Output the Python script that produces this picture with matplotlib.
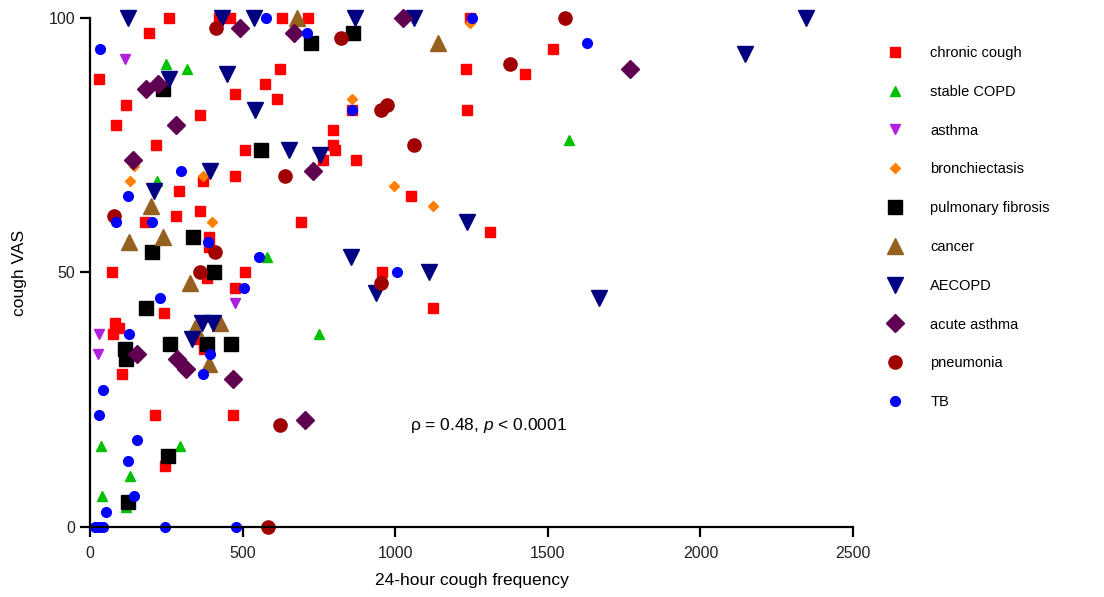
import matplotlib
matplotlib.use("Agg")
import matplotlib.pyplot as plt

plt.rcParams['font.family'] = ['Liberation Sans', 'DejaVu Sans']
plt.rcParams['mathtext.fontset'] = 'custom'
plt.rcParams['mathtext.rm'] = 'Liberation Sans'
plt.rcParams['mathtext.it'] = 'Liberation Sans:italic'

# data (x = 24-hour cough frequency, y = cough VAS)
chronic_x = [259, 194, 31, 119, 86, 359, 217, 476, 574, 614, 622, 507, 424, 459, 476, 630,
             714, 1232, 1234, 859, 796, 796, 804, 764, 872, 1053, 691, 957, 1125, 1245, 1517,
             1426, 1310, 370, 293, 181, 281, 359, 391, 389, 71, 383, 508, 476, 241, 82, 96,
             76, 352, 374, 105, 214, 467, 247]
chronic_y = [100, 97, 88, 83, 79, 81, 75, 85, 87, 84, 90, 74, 100, 100, 69, 100,
             100, 90, 82, 82, 78, 75, 74, 72, 72, 65, 60, 50, 43, 100, 94,
             89, 58, 68, 66, 60, 61, 62, 57, 55, 50, 49, 50, 47, 42, 40, 39,
             38, 37, 35, 30, 22, 22, 12]

copd_x = [250, 319, 220, 580, 35, 131, 39, 118, 296, 749, 1569]
copd_y = [91, 90, 68, 53, 16, 10, 6, 4, 16, 38, 76]

asthma_x = [115, 476, 31, 27]
asthma_y = [92, 44, 38, 34]

bronch_x = [145, 131, 400, 369, 859, 997, 1124, 1245]
bronch_y = [71, 68, 60, 69, 84, 67, 63, 99]

fibrosis_x = [238, 560, 339, 203, 407, 184, 115, 118, 261, 382, 461, 257, 124, 724, 861]
fibrosis_y = [86, 74, 57, 54, 50, 43, 35, 33, 36, 36, 36, 14, 5, 95, 97]

cancer_x = [199, 128, 239, 329, 344, 427, 391, 678, 1141]
cancer_y = [63, 56, 57, 48, 39, 40, 32, 100, 95]

aecopd_x = [126, 260, 449, 431, 536, 540, 394, 210, 367, 404, 334, 869, 1060, 652, 754,
            855, 937, 1112, 1234, 1669, 2345, 2145]
aecopd_y = [100, 88, 89, 100, 100, 82, 70, 66, 40, 40, 37, 100, 100, 74, 73,
            53, 46, 50, 60, 45, 100, 93]

acute_x = [491, 184, 223, 283, 141, 155, 284, 316, 470, 669, 1027, 731, 704, 1768]
acute_y = [98, 86, 87, 79, 72, 34, 33, 31, 29, 97, 100, 70, 21, 90]

pneu_x = [414, 78, 411, 359, 623, 582, 824, 972, 953, 639, 1062, 953, 1555, 1377]
pneu_y = [98, 61, 54, 50, 20, 0, 96, 83, 82, 69, 75, 48, 100, 91]

tb_x = [32, 577, 297, 125, 84, 203, 386, 555, 504, 230, 129, 393, 369, 42, 28, 155, 123,
        143, 52, 16, 30, 44, 246, 480, 710, 859, 1007, 1251, 1627]
tb_y = [94, 100, 70, 65, 60, 60, 56, 53, 47, 45, 38, 34, 30, 27, 22, 17, 13,
        6, 3, 0, 0, 0, 0, 0, 97, 82, 50, 100, 95]

labels = ['chronic cough', 'stable COPD', 'asthma', 'bronchiectasis', 'pulmonary fibrosis',
          'cancer', 'AECOPD', 'acute asthma', 'pneumonia', 'TB']
xs = [chronic_x, copd_x, asthma_x, bronch_x, fibrosis_x, cancer_x, aecopd_x, acute_x, pneu_x, tb_x]
ys = [chronic_y, copd_y, asthma_y, bronch_y, fibrosis_y, cancer_y, aecopd_y, acute_y, pneu_y, tb_y]

# styles
colors = ['#ff0000', '#00c000', '#b020e0', '#ff8000', '#000000', '#956020', '#000080',
          '#600050', '#a00000', '#0000ff']
markers = ['s', '^', 'v', 'D', 's', '^', 'v', 'D', 'o', 'o']
sizes = [6.5, 7, 7, 5, 10, 12, 12, 9, 9.5, 7]

fig = plt.figure(figsize=(11.04, 5.97), dpi=100)
ax = fig.add_axes([0.0815, 0.1173, 0.6912, 0.8526])

for x, y, lab, c, m, s in zip(xs, ys, labels, colors, markers, sizes):
    ax.plot(x, y, linestyle='none', marker=m, ms=s, color=c, mec=c, label=lab, clip_on=False)

ax.set_xlim(0, 2500)
ax.set_ylim(0, 100)
ax.set_xticks([0, 500, 1000, 1500, 2000, 2500])
ax.set_yticks([0, 50, 100])
for sp in ['top', 'right']:
    ax.spines[sp].set_visible(False)
for sp in ['left', 'bottom']:
    ax.spines[sp].set_linewidth(1.6)
ax.tick_params(width=1.6, length=7, labelsize=11.5, colors='#000000')
ax.tick_params(axis='x', pad=7)
ax.tick_params(labelcolor='#222222')
ax.set_xlabel('24-hour cough frequency', fontsize=12.5, labelpad=8)
ax.set_ylabel('cough VAS', fontsize=12.5, labelpad=16)

ax.text(1048, 20, r'ρ = 0.48, $\mathit{p}$ < 0.0001', fontsize=12.5, va='center', ha='left')

ax.legend(loc='upper left', bbox_to_anchor=(888 / 1104, 1 - 46 / 597), bbox_transform=fig.transFigure,
          frameon=False, numpoints=1, handlelength=1.0, handletextpad=1.9,
          labelspacing=1.7, fontsize=10.5, borderpad=0, borderaxespad=0)

fig.savefig('out.png', dpi=100)
